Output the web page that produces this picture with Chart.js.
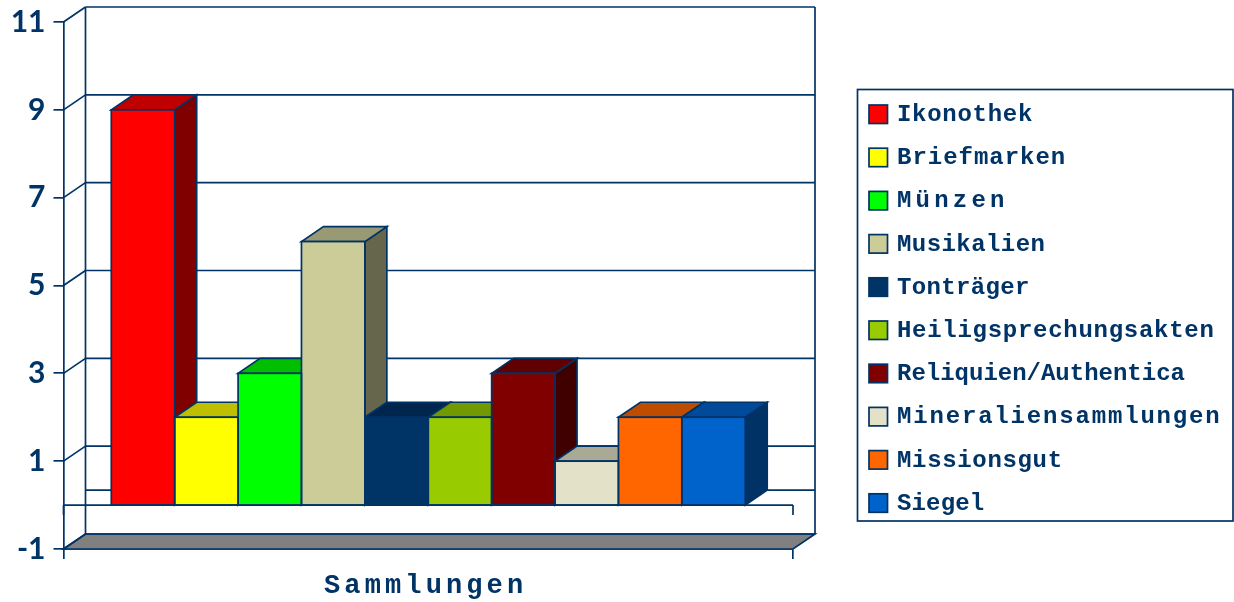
<!DOCTYPE html>
<html>
<head>
<meta charset="utf-8">
<title>Sammlungen</title>
<script src="https://cdn.jsdelivr.net/npm/chart.js@4"></script>
<style>
  html, body { margin: 0; padding: 0; background: #fff; }
  canvas { display: block; }
</style>
</head>
<body>
<canvas id="chart-1" width="1234" height="602"></canvas>
<script>
var categories = ["Sammlungen"];
var seriesNames = ["Ikonothek", "Briefmarken", "Münzen", "Musikalien", "Tonträger",
  "Heiligsprechungsakten", "Reliquien/Authentica", "Mineraliensammlungen", "Missionsgut", "Siegel"];
var seriesValues = [9, 2, 3, 6, 2, 2, 3, 1, 2, 2];
var seriesColors = ["#ff0000", "#ffff00", "#00ff00", "#cccc99", "#003366",
  "#99cc00", "#800000", "#e3e1c8", "#ff6600", "#0063cc"];
var yTicks = [-1, 1, 3, 5, 7, 9, 11];

var lineColor = "#003366";
var lineW = 1.7;
var depthX = 22;
var depthY = -15;

// darker version of a bar colour for the top and side faces
function shade(hex, f) {
  var n = parseInt(hex.slice(1), 16);
  var r = Math.round((n >> 16) * f);
  var g = Math.round(((n >> 8) & 255) * f);
  var b = Math.round((n & 255) * f);
  return "rgb(" + r + "," + g + "," + b + ")";
}

function poly(ctx, pts, fill) {
  ctx.beginPath();
  ctx.moveTo(pts[0][0], pts[0][1]);
  for (var i = 1; i < pts.length; i++) ctx.lineTo(pts[i][0], pts[i][1]);
  ctx.closePath();
  if (fill) {
    ctx.fillStyle = fill;
    ctx.fill();
  }
  ctx.stroke();
}

function seg(ctx, x1, y1, x2, y2) {
  ctx.beginPath();
  ctx.moveTo(x1, y1);
  ctx.lineTo(x2, y2);
  ctx.stroke();
}

// the reference sets mono glyphs on the advance widths of a proportional font,
// so stretch each string to that width
function spacedText(ctx, text, x, y, fontPx, advancePx) {
  ctx.letterSpacing = "0px";
  ctx.font = advancePx + "px 'Liberation Sans'";
  var target = ctx.measureText(text).width;
  ctx.font = "bold " + fontPx + "px 'Liberation Mono'";
  var own = ctx.measureText(text).width;
  ctx.letterSpacing = (target - own) / text.length + "px";
  ctx.fillText(text, x, y);
  ctx.letterSpacing = "0px";
}

// walls, floor and the top/side faces of the bars
var box3d = {
  id: "box3d",
  beforeDatasetsDraw: function (chart) {
    var ctx = chart.ctx;
    var a = chart.chartArea;
    var y = chart.scales.y;
    var bottom = y.getPixelForValue(yTicks[0]);
    ctx.save();
    ctx.strokeStyle = lineColor;
    ctx.lineWidth = lineW;

    poly(ctx, [[a.left, bottom], [a.right, bottom], [a.right + depthX, bottom + depthY], [a.left + depthX, bottom + depthY]], "#808080");
    seg(ctx, a.left + depthX, a.top + depthY, a.left + depthX, bottom + depthY);
    seg(ctx, a.right + depthX, a.top + depthY, a.right + depthX, bottom + depthY);

    yTicks.forEach(function (t) {
      var py = y.getPixelForValue(t);
      seg(ctx, a.left, py, a.left + depthX, py + depthY);
      seg(ctx, a.left + depthX, py + depthY, a.right + depthX, py + depthY);
    });
    var zero = y.getPixelForValue(0);
    seg(ctx, a.left + depthX, zero + depthY, a.right + depthX, zero + depthY);

    chart.data.datasets.forEach(function (ds, i) {
      var bar = chart.getDatasetMeta(i).data[0];
      var l = bar.x - bar.width / 2;
      var r = bar.x + bar.width / 2;
      poly(ctx, [[r, bar.y], [r + depthX, bar.y + depthY], [r + depthX, bar.base + depthY], [r, bar.base]], shade(ds.backgroundColor, 0.5));
      poly(ctx, [[l, bar.y], [r, bar.y], [r + depthX, bar.y + depthY], [l + depthX, bar.y + depthY]], shade(ds.backgroundColor, 0.75));
    });
    ctx.restore();
  },
  afterDatasetsDraw: function (chart) {
    // outline of the front faces, shared edges stay one line wide
    var ctx = chart.ctx;
    ctx.save();
    ctx.strokeStyle = lineColor;
    ctx.lineWidth = lineW;
    chart.data.datasets.forEach(function (ds, i) {
      var bar = chart.getDatasetMeta(i).data[0];
      ctx.strokeRect(bar.x - bar.width / 2, bar.y, bar.width, bar.base - bar.y);
    });
    ctx.restore();
  },
  afterDraw: function (chart) {
    var ctx = chart.ctx;
    var a = chart.chartArea;
    var zero = chart.scales.y.getPixelForValue(0);
    ctx.save();
    ctx.strokeStyle = lineColor;
    ctx.lineWidth = lineW;

    // axis at value 0
    seg(ctx, a.left, zero, a.right, zero);
    seg(ctx, a.left, zero, a.left, zero + 10);
    seg(ctx, a.right, zero, a.right, zero + 10);

    // axis title
    ctx.fillStyle = lineColor;
    ctx.textAlign = "left";
    ctx.textBaseline = "middle";
    spacedText(ctx, categories[0], 324, 586, 27, 34.5);

    // legend
    ctx.strokeRect(857.5, 89.5, 375.5, 431.5);
    seriesNames.forEach(function (name, i) {
      var cy = 114 + i * 43.2;
      ctx.fillStyle = seriesColors[i];
      ctx.fillRect(869, cy - 9, 18.5, 18.5);
      ctx.strokeRect(869, cy - 9, 18.5, 18.5);
      ctx.fillStyle = lineColor;
      spacedText(ctx, name, 897, cy + 1, 24, 31.4);
    });
    ctx.restore();
  },
};

var ctx = document.getElementById("chart-1").getContext("2d");
var myChart = new Chart(ctx, {
  type: "bar",
  data: {
    labels: categories,
    datasets: seriesNames.map(function (name, i) {
      return {
        label: name,
        data: [seriesValues[i]],
        backgroundColor: seriesColors[i],
        borderWidth: 0,
        barPercentage: 1,
        categoryPercentage: 0.869,
      };
    }),
  },
  options: {
    responsive: false,
    animation: false,
    layout: { padding: { left: 0, right: 441, top: 22, bottom: 0 } },
    plugins: { legend: { display: false }, tooltip: { enabled: false } },
    scales: {
      x: {
        ticks: { display: false },
        grid: { drawOnChartArea: false, color: lineColor, tickLength: 10, lineWidth: lineW },
        border: { color: lineColor, width: lineW },
        afterFit: function (scale) {
          scale.height = 53;
        },
      },
      y: {
        min: -1,
        max: 11,
        ticks: {
          stepSize: 2,
          color: lineColor,
          padding: 8,
          font: { family: "Lato", size: 30, weight: "bold" },
        },
        grid: { drawOnChartArea: false, color: lineColor, tickLength: 10, lineWidth: lineW },
        border: { color: lineColor, width: lineW },
        afterFit: function (scale) {
          scale.width = 63.5;
          scale.paddingTop = 0;
          scale.paddingBottom = 0;
        },
      },
    },
  },
  plugins: [box3d],
});
</script>
</body>
</html>
